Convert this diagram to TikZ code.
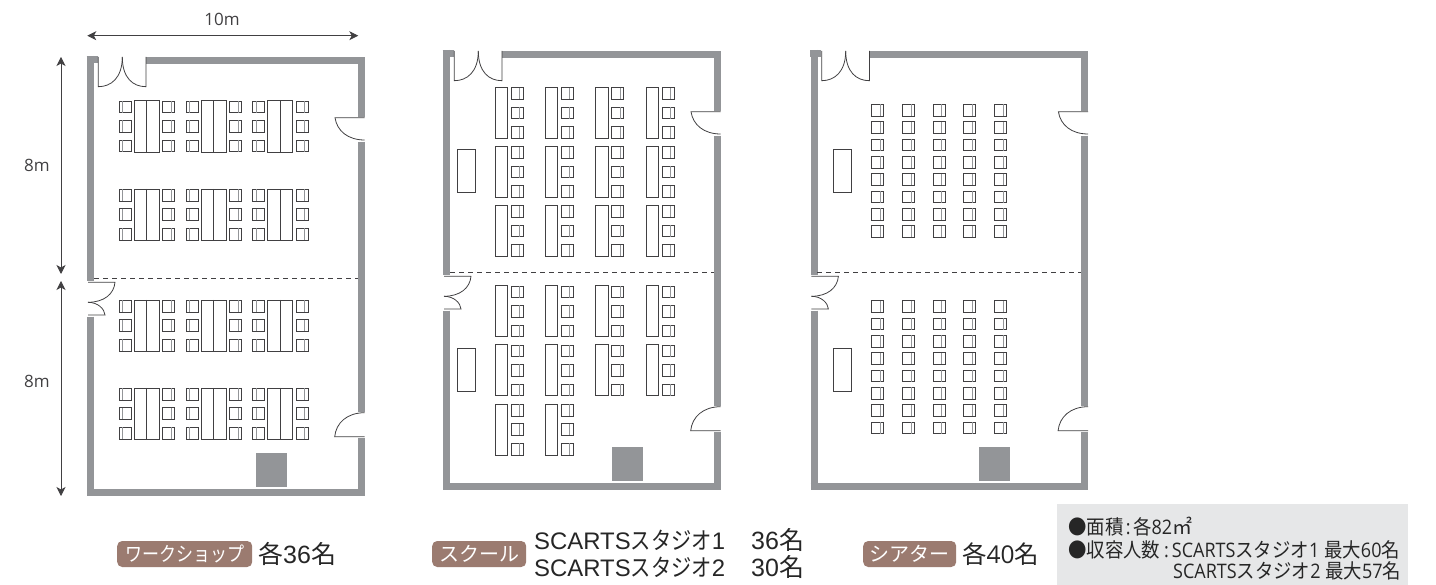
\documentclass[tikz,border=0pt]{standalone}
\usepackage{fontspec}
\setmainfont{Open Sans}
\newfontfamily\jpfont{Noto Sans CJK JP}
\newfontfamily\jpcond[FakeStretch=0.85]{Noto Sans CJK JP}
\newfontfamily\jpnote[FakeStretch=0.92]{Noto Sans CJK JP}
\newfontfamily\labelfont{Liberation Sans}
\newfontfamily\notefont[FakeStretch=0.9]{Open Sans}
\usetikzlibrary{arrows.meta}
\definecolor{wallgray}{HTML}{939598}
\definecolor{tagbrown}{HTML}{9B7B70}
\definecolor{notegray}{HTML}{E6E7E8}
\definecolor{inkgray}{HTML}{414042}
\tikzset{
  wall/.style={line width=7pt,draw=wallgray},
  door/.style={line width=0.8pt,draw=inkgray},
  desk/.style={line width=0.8pt,draw=inkgray},
  partition/.style={line width=0.9pt,draw=inkgray,dash pattern=on 5pt off 4pt},
  dimarrow/.style={line width=0.8pt,draw=inkgray,{Stealth[length=9pt,width=9pt,inset=2.5pt]}-{Stealth[length=9pt,width=9pt,inset=2.5pt]}},
  dimlabel/.style={text=inkgray,font=\fontsize{17}{17}\selectfont},
  tag/.style={fill=tagbrown,rounded corners=5pt,text=white,minimum height=26pt,inner sep=0pt,anchor=west},
  count/.style={text=black!85,inner sep=0pt,anchor=west},
  chair/.pic={\draw[desk] (0,0) rectangle (12,11.7);\draw[desk,line width=0.5pt,draw=wallgray] (8.7,0) -- (8.7,11.7);},
  chairflip/.pic={\draw[desk] (0,0) rectangle (12,11.7);\draw[desk,line width=0.5pt,draw=wallgray] (3.5,0) -- (3.5,11.7);},
}
\begin{document}
\begin{tikzpicture}[x=1pt,y=-1pt]
\useasboundingbox (0,0) rectangle (1436,585);
% room shells
\foreach \dx/\dy in {0/0,356/-6,723.4/-6}{
\begin{scope}[shift={(\dx,\dy)}]
\draw[wall] (90.8,56) -- (90.8,280.7) (90.8,316.7) -- (90.8,496);
\draw[wall] (86.7,59.4) -- (97.7,59.4);
\draw[wall] (146,60.6) -- (364.7,60.6);
\draw[wall] (361.2,57.3) -- (361.2,117.3) (361.2,141.7) -- (361.2,411.7) (361.2,437.7) -- (361.2,496);
\draw[wall] (87.3,492.5) -- (364.7,492.5);
\fill[wallgray] (255.7,453) rectangle (286.7,487);
\draw[partition] (94,278) -- (358,278);
% doors
\draw[door] (98.3,57) -- (98.3,86.7) .. controls (111,86.7) and (122.3,78) .. (122.3,57);
\draw[door] (146,57) -- (146,86.7) .. controls (133,86.7) and (122.3,78) .. (122.3,57);
\draw[door] (364.7,117.7) -- (335,117.7) .. controls (337,131) and (348,140) .. (364.7,140);
\draw[door] (364.7,436.7) -- (334.7,436.7) .. controls (336,423) and (347,412.7) .. (364.7,412.7);
\draw[door] (88,282.3) -- (115,282.3) .. controls (114,294) and (104,302.3) .. (88,302.3);
\draw[door] (88,315) -- (105,315) .. controls (104.5,309) and (98,302.3) .. (88,302.3);
\end{scope}}
\fill[wallgray] (86.7,328) rectangle (88,340);
% workshop tables
\foreach \gy in {100.7,189,300,388}{
  \foreach \gx in {0,67,133.7}{
    \draw[desk] (134+\gx,\gy) rectangle (159+\gx,\gy+51.3);
    \draw[desk] (146.4+\gx,\gy) -- (146.4+\gx,\gy+51.3);
    \foreach \cy in {0.3,19.7,39.3}{
      \pic at (119+\gx,\gy+\cy) {chairflip};
      \pic at (162.3+\gx,\gy+\cy) {chair};
    }
  }
}
% school desks
\foreach \gx/\gy in {495/87.3,545/87.3,595.3/87.3,646/87.3,495/146.3,545/146.3,595.3/146.3,646/146.3,495/205.3,545/205.3,595.3/205.3,646/205.3,
  495/285.7,545/285.7,595.3/285.7,646/285.7,495/344.7,545/344.7,595.3/344.7,646/344.7,495/404,545/404}{
  \draw[desk] (\gx,\gy) rectangle (\gx+12.7,\gy+51);
  \foreach \cy in {0.3,19.7,39.3}{
    \pic at (\gx+16,\gy+\cy) {chair};
  }
}
\draw[desk] (457,149.3) rectangle (475.3,192.3);
\draw[desk] (457,348) rectangle (475.3,391);
% theatre chairs
\draw[desk] (833,149.3) rectangle (851.3,192.3);
\draw[desk] (833,348) rectangle (851.3,391);
\foreach \gy in {104.3,300.7}{
  \foreach \gx in {871.7,902.3,933,963.7,994.3}{
    \foreach \n in {0,...,7}{
      \pic at (\gx,\gy+\n*17.33) {chair};
    }
  }
}
% dimensions
\coordinate (topl) at (87.3,35.7);
\coordinate (topr) at (358.3,35.7);
\coordinate (upa) at (61,57);
\coordinate (upb) at (61,274);
\coordinate (lowa) at (61,281);
\coordinate (lowb) at (61,496);
\draw[dimarrow] (topl) -- (topr);
\draw[dimarrow] (upa) -- (upb);
\draw[dimarrow] (lowa) -- (lowb);
\node[dimlabel] (width) at (222,19) {10m};
\node[dimlabel] (depthup) at (37,165) {8m};
\node[dimlabel] (depthlow) at (37,381) {8m};
% captions
\node[tag,minimum width=135pt] (workshop) at (117,554) {\fontsize{20}{20}\jpcond ワークショップ};
\node[count,font=\fontsize{25}{25}\selectfont] (workcount) at (258,554) {\jpfont 各\labelfont 36\jpfont 名};
\node[tag,minimum width=94pt] (school) at (432,554) {\fontsize{20}{20}\jpfont スクール};
\node[count,font=\fontsize{23.9}{23.9}\selectfont] (schoola) at (534,540) {\labelfont SCARTS\jpcond スタジオ\labelfont 1};
\node[count,font=\fontsize{23.9}{23.9}\selectfont] (schoolb) at (534,567) {\labelfont SCARTS\jpcond スタジオ\labelfont 2};
\node[count,font=\fontsize{25}{25}\selectfont] (schoolc) at (751,540) {\labelfont 36\jpfont 名};
\node[count,font=\fontsize{25}{25}\selectfont] (schoold) at (751,567) {\labelfont 30\jpfont 名};
\node[tag,minimum width=93pt] (theatre) at (863,554) {\fontsize{20}{20}\jpfont シアター};
\node[count,font=\fontsize{24.5}{24.5}\selectfont] (theatrecount) at (962,554) {\jpfont 各\rmfamily 40\jpfont 名};
% note box
\fill[notegray] (1056.7,504) rectangle (1408,585);
\node[count,font=\fontsize{20}{20}\selectfont] (notea) at (1068,527) {\jpnote ●面積\notefont\hspace{2.5pt}:\hspace{2.5pt}\jpnote 各\notefont 82\jpfont ㎡};
\node[count,font=\fontsize{20}{20}\selectfont] (noteb) at (1068,550) {\jpnote ●収容人数\notefont\hspace{4pt}:\hspace{3pt}SCARTS\jpnote スタジオ\notefont 1 \jpnote 最大\notefont 60\jpnote 名};
\node[count,font=\fontsize{20}{20}\selectfont] (notec) at (1173,571) {\notefont SCARTS\jpnote スタジオ\notefont 2 \jpnote 最大\notefont 57\jpnote 名};
\end{tikzpicture}
\end{document}
